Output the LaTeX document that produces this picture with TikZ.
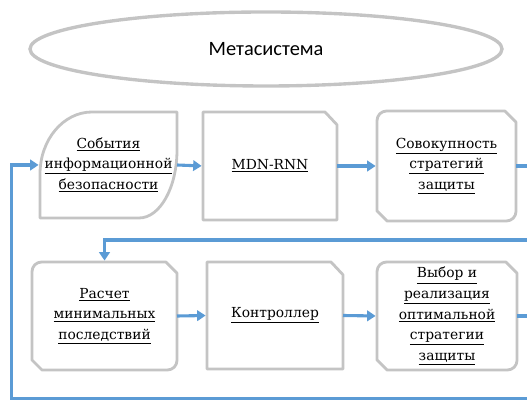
\documentclass[tikz,border=0pt]{standalone}
\usepackage{fontspec}
\setmainfont{DejaVu Serif}
\newfontfamily\boxfont{DejaVu Serif}[Scale=0.82]
\newfontfamily\metafont{Carlito}
\usetikzlibrary{shapes.geometric,arrows.meta}
\definecolor{frame}{HTML}{C4C4C4}
\definecolor{flow}{HTML}{5B9BD5}
\newcommand{\ult}[1]{\underline{#1}}

\begin{document}
\begin{tikzpicture}[
  boxtext/.style={inner sep=0, outer sep=0, align=center, font=\fontsize{12}{14.6}\boxfont},
  boxline/.style={draw=frame, line width=2pt, line join=round},
  flowline/.style={draw=flow, line width=2.2pt},
  flowarrow/.style={flowline, -{Triangle[length=6pt,width=7.5pt]}, shorten >=1pt}
]
\useasboundingbox (0,0) rectangle (13.175,10);

\node [ellipse, draw=frame, line width=2.4pt, minimum width=11.8cm, minimum height=1.85cm, font=\fontsize{14.5}{17}\metafont] (meta) at (6.65,8.775) {Метасистема};

% upper row
\node [boxtext, minimum width=3.425cm, minimum height=2.65cm] (events) at (2.7125,5.875) {\ult{События}\\\ult{информационной}\\\ult{безопасности}};
\node [boxtext, minimum width=3.35cm, minimum height=2.7cm] (mdnrnn) at (6.75,5.85) {\ult{MDN-RNN}};
\node [boxtext, minimum width=3.475cm, minimum height=2.75cm] (strategies) at (11.1625,5.85) {\ult{Совокупность}\\\ult{стратегий}\\\ult{защиты}};

% lower row
\node [boxtext, minimum width=3.625cm, minimum height=2.7cm] (losses) at (2.6125,2.1) {\ult{Расчет}\\\ult{минимальных}\\\ult{последствий}};
\node [boxtext, minimum width=3.4cm, minimum height=2.675cm] (controller) at (6.875,2.1125) {\ult{Контроллер}};
\node [boxtext, minimum width=3.5cm, minimum height=2.7cm] (choice) at (11.175,2.1) {\ult{Выбор и}\\\ult{реализация}\\\ult{оптимальной}\\\ult{стратегии}\\\ult{защиты}};

% outlines
\draw [boxline] (events.south west) -- ([xshift=-0.95cm]events.south east) arc [start angle=-90, end angle=0, x radius=0.95cm, y radius=1.7cm] -- (events.north east) -- ([xshift=1.3cm]events.north west) arc [start angle=90, end angle=180, x radius=1.3cm, y radius=1.55cm] -- cycle;
\draw [boxline] (mdnrnn.south west) -- (mdnrnn.south east) -- ([yshift=-0.32cm]mdnrnn.north east) -- ([xshift=-0.3cm]mdnrnn.north east) -- (mdnrnn.north west) -- cycle;
\draw [boxline] (controller.south west) -- (controller.south east) -- ([yshift=-0.32cm]controller.north east) -- ([xshift=-0.3cm]controller.north east) -- (controller.north west) -- cycle;
\draw [boxline] ([xshift=0.25cm]strategies.south west) -- ([xshift=-0.24cm]strategies.south east) arc [start angle=-90, end angle=0, radius=0.24cm] -- ([yshift=-0.28cm]strategies.north east) -- ([xshift=-0.28cm]strategies.north east) -- ([xshift=0.24cm]strategies.north west) arc [start angle=90, end angle=180, radius=0.24cm] -- ([yshift=0.25cm]strategies.south west) -- cycle;
\draw [boxline] ([xshift=0.25cm]losses.south west) -- ([xshift=-0.24cm]losses.south east) arc [start angle=-90, end angle=0, radius=0.24cm] -- ([yshift=-0.28cm]losses.north east) -- ([xshift=-0.28cm]losses.north east) -- ([xshift=0.24cm]losses.north west) arc [start angle=90, end angle=180, radius=0.24cm] -- ([yshift=0.25cm]losses.south west) -- cycle;
\draw [boxline] ([xshift=0.25cm]choice.south west) -- ([xshift=-0.24cm]choice.south east) arc [start angle=-90, end angle=0, radius=0.24cm] -- ([yshift=-0.28cm]choice.north east) -- ([xshift=-0.28cm]choice.north east) -- ([xshift=0.24cm]choice.north west) arc [start angle=90, end angle=180, radius=0.24cm] -- ([yshift=0.25cm]choice.south west) -- cycle;

% flow
\coordinate (outtop) at (13.5,4.0);
\coordinate (outbot) at (13.5,0.03);
\coordinate (backbot) at (0.29,0.03);
\draw [flowarrow] (events.east) -- (mdnrnn.west);
\draw [flowarrow] (mdnrnn.east) -- (strategies.west);
\draw [flowarrow] (strategies.east) -- (strategies.east -| outtop) -- (outtop) -- (outtop -| losses.north) -- (losses.north);
\draw [flowarrow] (losses.east) -- (controller.west);
\draw [flowarrow] (controller.east) -- (choice.west);
\draw [flowarrow] (choice.east) -- (choice.east -| outbot) -- (outbot) -- (backbot) -- (backbot |- events.west) -- (events.west);
\end{tikzpicture}
\end{document}
